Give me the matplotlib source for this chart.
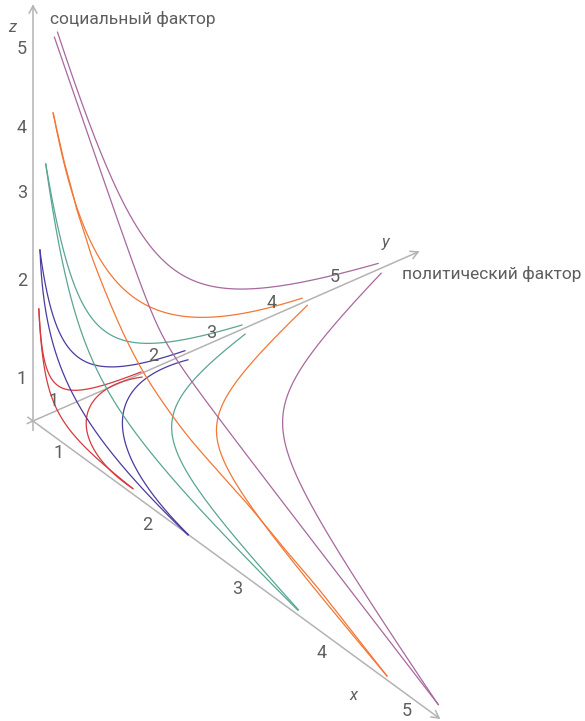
import numpy as np
import matplotlib
matplotlib.use("Agg")
from matplotlib import pyplot as plt

# traced curves (picture coordinates, y grows downwards)
# level 1 .. 5: curve in z-y face, curve in x-z face, curve in x-y face
red_zy = [(39, 309), (40, 330), (42, 347), (45, 362), (49, 374), (55, 383), (63, 388),
          (73, 391), (87, 389), (107, 384), (125, 378), (141, 372)]
red_xz = [(39, 309), (40, 337), (43, 360), (47, 378), (53, 400), (60, 415), (70, 430),
          (80, 443), (93, 455), (107, 467), (120, 478), (132, 488)]
red_xy = [(142, 377), (120, 383), (103, 390), (92, 405), (87, 420), (87, 433),
          (91, 445), (97, 455), (113, 472), (133, 489)]

blue_zy = [(40, 250), (43, 272), (47, 293), (53, 317), (63, 338), (77, 355), (93, 365),
           (113, 368), (137, 364), (163, 357), (185, 351)]
blue_xz = [(40, 250), (42, 283), (46, 310), (50, 333), (56, 355), (63, 373), (71, 390),
           (80, 407), (97, 433), (123, 467), (153, 500), (188, 535)]
blue_xy = [(188, 360), (163, 368), (143, 380), (130, 397), (124, 413), (123, 427),
           (124, 440), (132, 463), (147, 487), (167, 510), (188, 535)]

teal_zy = [(46, 164), (50, 190), (55, 215), (62, 245), (70, 270), (78, 293), (87, 313),
           (103, 330), (123, 340), (153, 343), (183, 340), (217, 332), (242, 325)]
teal_xz = [(46, 164), (50, 195), (55, 225), (61, 255), (68, 285), (80, 327), (97, 370),
           (113, 400), (130, 427), (150, 450), (183, 490), (217, 527), (250, 563), (298, 610)]
teal_xy = [(245, 334), (232, 345), (220, 355), (210, 363), (197, 376), (187, 387),
           (178, 402), (174, 415), (173, 427), (175, 447), (187, 473), (210, 507),
           (243, 547), (273, 580), (298, 610)]

orange_zy = [(53, 113), (63, 157), (70, 183), (78, 212), (88, 240), (102, 262), (117, 280),
             (137, 300), (157, 310), (183, 316), (217, 317), (250, 312), (273, 307), (302, 298)]
orange_xz = [(53, 113), (63, 157), (70, 183), (77, 210), (85, 235), (93, 260), (110, 303),
             (128, 343), (150, 383), (183, 430), (217, 470), (250, 507), (283, 547),
             (317, 587), (343, 620), (387, 676)]
orange_xy = [(307, 305), (287, 327), (263, 350), (240, 373), (227, 397), (220, 417),
             (218, 432), (222, 457), (237, 487), (260, 520), (290, 557), (320, 595),
             (350, 632), (387, 676)]

purple_zy = [(58, 32), (68, 65), (80, 100), (100, 150), (123, 200), (140, 230), (152, 248),
             (167, 265), (183, 278), (210, 286), (243, 288), (283, 285), (317, 279),
             (350, 272), (378, 263)]
purple_xz = [(55, 37), (75, 100), (99, 170), (124, 235), (150, 300), (180, 360), (213, 410),
             (250, 463), (285, 507), (322, 553), (355, 595), (397, 650), (438, 705)]
purple_xy = [(382, 274), (353, 300), (330, 330), (303, 367), (290, 397), (285, 427),
             (287, 450), (293, 470), (307, 500), (320, 525), (350, 570), (383, 620),
             (417, 670), (437, 705)]

levels = ["1", "2", "3", "4", "5"]
colors = ["#d6393d", "#4b3b9f", "#5aa593", "#f37735", "#a8689e"]
curves = [(red_zy, red_xz, red_xy), (blue_zy, blue_xz, blue_xy),
          (teal_zy, teal_xz, teal_xy), (orange_zy, orange_xz, orange_xy),
          (purple_zy, purple_xz, purple_xy)]

# axis labels
z_ticks = [(22, 379), (22, 281), (22, 193), (22, 128), (22, 49)]
y_ticks = [(54, 401), (153, 356), (211, 333), (272, 303), (335, 277)]
x_ticks = [(59, 453), (147, 525), (237, 589), (322, 653), (407, 711)]

origin = (33, 421)
x_end, y_end, z_end = (439, 718), (418, 252), (33, 6)

gray = "#b3b3b3"
txt = "#5e5e5e"
plt.rcParams["font.family"] = ["Roboto", "DejaVu Sans"]


def catmull(pts, n=25):
    p = np.array(pts, float)
    p = np.vstack([2 * p[0] - p[1], p, 2 * p[-1] - p[-2]])
    out = []
    t = np.linspace(0, 1, n, endpoint=False)[:, None]
    for i in range(1, len(p) - 2):
        p0, p1, p2, p3 = p[i - 1], p[i], p[i + 1], p[i + 2]
        out.append(0.5 * (2 * p1 + (-p0 + p2) * t + (2 * p0 - 5 * p1 + 4 * p2 - p3) * t ** 2
                          + (-p0 + 3 * p1 - 3 * p2 + p3) * t ** 3))
    out.append(p[-2][None])
    return np.vstack(out)


def smooth(pts):
    # the traced hyperbola-like arcs: fit one conic to the points and
    # pull the spline through them onto it, which removes tracing wobble
    p = np.array(pts, float)
    m = p.mean(0)
    sc = p.std()
    q = (p - m) / sc
    x, y = q.T
    D = np.column_stack([x * x, x * y, y * y, x, y, np.ones_like(x)])
    a = np.linalg.svd(D)[2][-1]
    c = (catmull(pts) - m) / sc
    r = c.copy()
    for _ in range(10):
        X, Y = r.T
        F = a[0] * X * X + a[1] * X * Y + a[2] * Y * Y + a[3] * X + a[4] * Y + a[5]
        gx = 2 * a[0] * X + a[1] * Y + a[3]
        gy = a[1] * X + 2 * a[2] * Y + a[4]
        g2 = gx * gx + gy * gy + 1e-12
        r = r - (F / g2)[:, None] * np.column_stack([gx, gy])
    moved = np.hypot(*((r - c) * sc).T)
    if moved.max() > 5:
        r = c
    return r * sc + m


def axis_line(ax, start, end, back=7):
    s = np.array(start, float)
    e = np.array(end, float)
    d = (e - s) / np.linalg.norm(e - s)
    s = s - d * back
    ax.plot([s[0], e[0]], [s[1], e[1]], color=gray, lw=1.1, solid_capstyle="butt")
    # open arrow head
    for ang in (0.5, -0.5):
        c, sn = np.cos(ang), np.sin(ang)
        r = np.array([d[0] * c - d[1] * sn, d[0] * sn + d[1] * c])
        a = e - r * 8
        ax.plot([a[0], e[0]], [a[1], e[1]], color=gray, lw=1.1)


fig = plt.figure(figsize=(5.85, 7.21), dpi=100)
ax = fig.add_axes([0, 0, 1, 1])
ax.set_xlim(0, 585)
ax.set_ylim(721, 0)
ax.axis("off")

axis_line(ax, origin, x_end)
axis_line(ax, origin, y_end)
axis_line(ax, origin, z_end, back=10)

for col, group in zip(colors, curves):
    for c in group:
        s = smooth(c)
        ax.plot(s[:, 0], s[:, 1], color=col, lw=0.9)

for lab, (px, py) in zip(levels, z_ticks):
    ax.text(px, py, lab, fontsize=13, color=txt, ha="center", va="center")
for lab, (px, py) in zip(levels, y_ticks):
    ax.text(px, py, lab, fontsize=13, color=txt, ha="center", va="center")
for lab, (px, py) in zip(levels, x_ticks):
    ax.text(px, py, lab, fontsize=13, color=txt, ha="center", va="center")

ax.text(12, 27, "z", fontsize=12, color=txt, style="italic", ha="center", va="center")
ax.text(386, 242, "y", fontsize=12, color=txt, style="italic", ha="center", va="center")
ax.text(353, 695, "x", fontsize=12, color=txt, style="italic", ha="center", va="center")
ax.text(50, 19, "социальный фактор", fontsize=12.5, color=txt, ha="left", va="center")
ax.text(402, 274, "политический фактор", fontsize=12.5, color=txt, ha="left", va="center")

fig.savefig("out.png", dpi=100)
